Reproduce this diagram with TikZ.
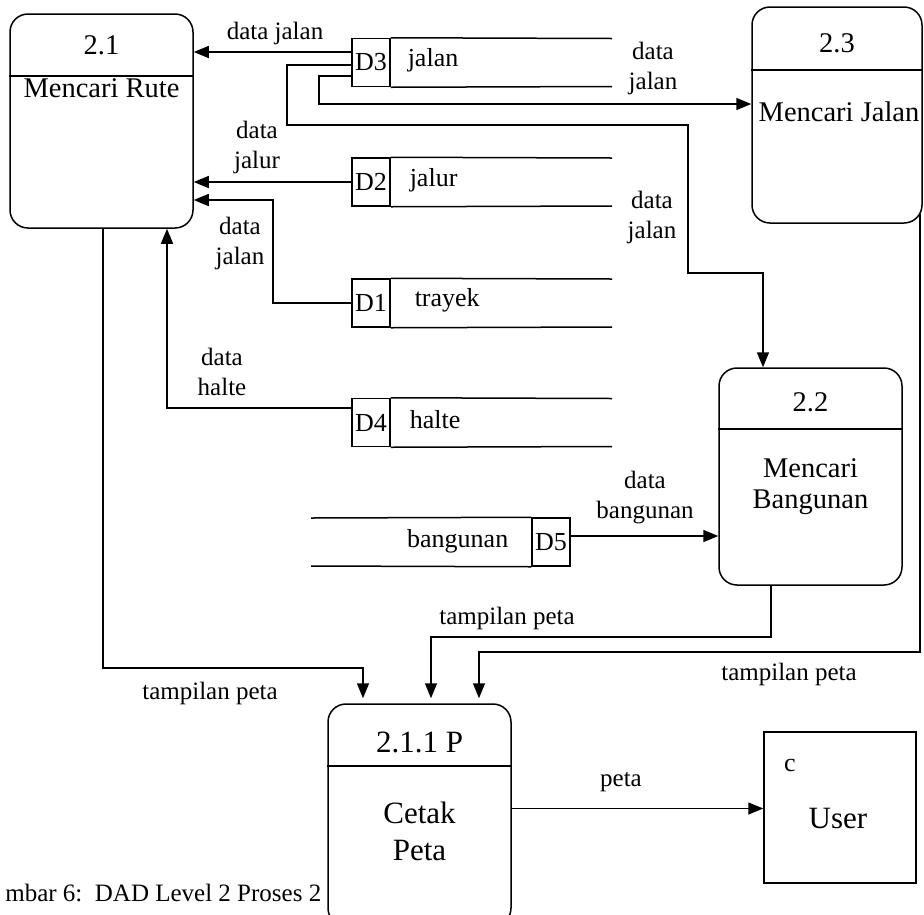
\documentclass[tikz,border=0pt]{standalone}
\usepackage{fontspec}
\setmainfont{Liberation Serif}
\usetikzlibrary{arrows.meta}
\begin{document}
\begin{tikzpicture}[x=1pt,y=-1pt, line width=1.5pt,
  proc/.style={draw, rounded corners=18pt, inner sep=0pt},
  ent/.style={draw, inner sep=0pt},
  arr/.style={-{Triangle[length=15pt,width=12pt]}},
  lbl/.style={font=\fontsize{25}{30}\selectfont, align=center, inner sep=0pt},
  ttl/.style={font=\fontsize{28.5}{31}\selectfont, align=center, inner sep=0pt},
  big/.style={font=\fontsize{31}{37}\selectfont, align=center, inner sep=0pt},
  sid/.style={draw, minimum width=38pt, minimum height=48pt, inner sep=0pt, font=\fontsize{26}{30}\selectfont},
  stxt/.style={font=\fontsize{26}{30}\selectfont, inner sep=0pt}]
\useasboundingbox (0,0) rectangle (924,914);
\clip (0,0) rectangle (924,914);

% processes
\node[proc, minimum width=183pt, minimum height=214pt] (p21) at (101.5,121) {};
\draw (p21.west |- 0,76) -- (p21.east |- 0,76);
\node[ttl] (t21) at (101.5,45) {2.1};
\node[ttl] (m21) at (101.5,88) {Mencari Rute};

\node[proc, minimum width=170pt, minimum height=216pt] (p23) at (837,115) {};
\draw (p23.west |- 0,70) -- (p23.east |- 0,70);
\node[ttl] (t23) at (837,43) {2.3};
\node[ttl] (m23) at (839,112) {Mencari Jalan};

\node[proc, minimum width=183pt, minimum height=217pt] (p22) at (810.5,476.5) {};
\draw (p22.west |- 0,429) -- (p22.east |- 0,429);
\node[ttl] (t22) at (810.5,402) {2.2};
\node[ttl] (m22) at (810.5,487) {Mencari\\Bangunan};

\node[proc, minimum width=183pt, minimum height=222pt] (p211) at (419.5,815) {};
\draw (p211.west |- 0,766) -- (p211.east |- 0,766);
\node[big] (t211) at (419.5,742) {2.1.1 P};
\node[big] (m211) at (419.5,831) {Cetak\\Peta};

% entity
\node[ent, minimum width=152pt, minimum height=151pt] (user) at (840,807.5) {};
\node[stxt] (uc) at (790,765) {c};
\node[big] (un) at (838,818) {User};

% data stores
\node[sid] (d3) at (371,62.5) {D3};
\draw (d3.north east) -- (612,38.5) (d3.south east) -- (612,86.5);
\node[stxt, anchor=west] (s3) at (407,60) {jalan};

\node[sid] (d2) at (371,182) {D2};
\draw (d2.north east) -- (612,158) (d2.south east) -- (612,206);
\node[stxt, anchor=west] (s2) at (409,180) {jalur};

\node[sid] (d1) at (371,303) {D1};
\draw (d1.north east) -- (612,279) (d1.south east) -- (612,327);
\node[stxt, anchor=west] (s1) at (414,300) {trayek};

\node[sid] (d4) at (371,422.5) {D4};
\draw (d4.north east) -- (612,398.5) (d4.south east) -- (612,446.5);
\node[stxt, anchor=west] (s4) at (409,420) {halte};

\node[sid] (d5) at (551,542) {D5};
\draw (d5.north west) -- (311,518) (d5.south west) -- (311,566);
\node[stxt, anchor=east] (s5) at (509,541) {bangunan};

% connectors
\coordinate (d3a) at ([yshift=10.5pt]d3.west);
\draw[arr] (d3a) -- (d3a -| p21.east);
\node[lbl] (l1) at (275,33) {data jalan};

\coordinate (d3b) at ([yshift=-2.5pt]d3.west);
\coordinate (k1) at (763,273);
\draw[arr] (d3b) -- (287,65) -- (287,125) -- (688,125) -- (688,273) -- (k1) -- (k1 |- p22.north);
\node[lbl] (l2) at (652,217) {data\\jalan};

\coordinate (d3c) at ([yshift=-13.5pt]d3.west);
\coordinate (k2) at (319,104);
\draw[arr] (d3c) -- (319,76) -- (k2) -- (k2 -| p23.west);
\node[lbl] (l3) at (653,68) {data\\jalan};

\draw[arr] (d2.west) -- (d2.west -| p21.east);
\node[lbl] (l4) at (257,147) {data\\jalur};

\coordinate (k3) at (273,200);
\draw[arr] (d1.west) -- (273,303) -- (k3) -- (k3 -| p21.east);
\node[lbl] (l5) at (240,243) {data\\jalan};

\coordinate (d4a) at ([yshift=14.5pt]d4.west);
\coordinate (k4) at (167,408);
\draw[arr] (d4a) -- (k4) -- (k4 |- p21.south);
\node[lbl] (l6) at (222,372) {data\\halte};

\coordinate (d5a) at ([yshift=6pt]d5.east);
\draw[arr] (d5a) -- (d5a -| p22.west);
\node[lbl] (l7) at (645,498) {data\\bangunan};

\coordinate (b1) at (p21.south -| 103,0);
\coordinate (k5) at (363,668);
\draw[arr] (b1) -- (103,668) -- (k5) -- ([yshift=5pt]k5 |- p211.north);
\node[lbl] (l8) at (210,693) {tampilan peta};

\coordinate (b2) at (p22.south -| 771,0);
\coordinate (k6) at (431,637);
\draw[arr] (b2) -- (771,637) -- (k6) -- ([yshift=5pt]k6 |- p211.north);
\node[lbl] (l9) at (507,618) {tampilan peta};

\coordinate (b3) at (920,214);
\coordinate (k7) at (479,652);
\draw[arr] (b3) -- (920,652) -- (k7) -- ([yshift=5pt]k7 |- p211.north);
\node[lbl] (l10) at (789,674) {tampilan peta};

\coordinate (pa) at ([yshift=6.5pt]p211.east);
\draw[arr] (pa) -- (pa -| user.west);
\node[lbl] (l11) at (621,782) {peta};

\node[lbl, anchor=east] (cap) at (322,893) {mbar 6:\ \ DAD Level 2 Proses 2};
\end{tikzpicture}
\end{document}
